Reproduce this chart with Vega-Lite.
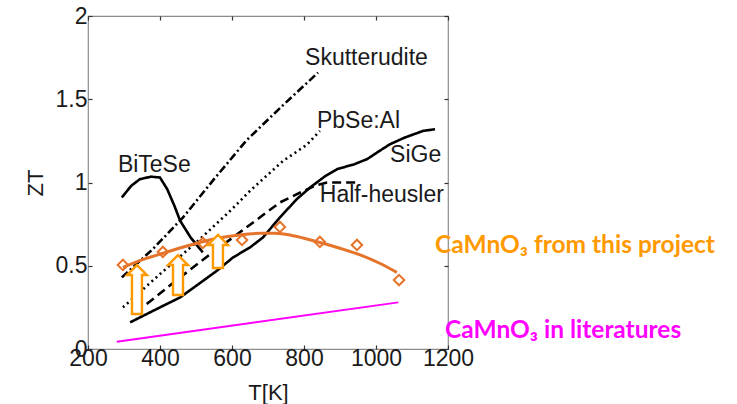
{
  "$schema": "https://vega.github.io/schema/vega-lite/v6.json",
  "width": 360,
  "height": 333,
  "autosize": "none",
  "padding": {"left": 88, "top": 16, "right": 289, "bottom": 55},
  "background": "white",
  "config": {
    "view": {"stroke": "#8c8c8c", "strokeWidth": 1.2},
    "font": "Liberation Sans",
    "axis": {
      "grid": false,
      "domain": false,
      "tickColor": "#333333",
      "tickSize": -4,
      "tickWidth": 1.2,
      "labelOverlap": false,
      "labelFlush": false,
      "labelFont": "Liberation Sans",
      "labelFontSize": 22,
      "labelColor": "#1a1a1a",
      "titleFont": "Liberation Sans",
      "titleFontSize": 22,
      "titleFontWeight": "normal",
      "titleColor": "#1a1a1a"
    }
  },
  "datasets": {
    "curves": [
      {"series": "Skutterudite", "T": 294, "ZT": 0.43},
      {"series": "Skutterudite", "T": 380, "ZT": 0.60},
      {"series": "Skutterudite", "T": 464, "ZT": 0.79},
      {"series": "Skutterudite", "T": 550, "ZT": 1.02},
      {"series": "Skutterudite", "T": 641, "ZT": 1.255},
      {"series": "Skutterudite", "T": 742, "ZT": 1.465},
      {"series": "Skutterudite", "T": 839, "ZT": 1.66},
      {"series": "PbSe:Al", "T": 297, "ZT": 0.25},
      {"series": "PbSe:Al", "T": 400, "ZT": 0.45},
      {"series": "PbSe:Al", "T": 511, "ZT": 0.66},
      {"series": "PbSe:Al", "T": 600, "ZT": 0.84},
      {"series": "PbSe:Al", "T": 650, "ZT": 0.95},
      {"series": "PbSe:Al", "T": 742, "ZT": 1.13},
      {"series": "PbSe:Al", "T": 807, "ZT": 1.225},
      {"series": "PbSe:Al", "T": 844, "ZT": 1.31},
      {"series": "Half-heusler", "T": 363, "ZT": 0.27},
      {"series": "Half-heusler", "T": 450, "ZT": 0.42},
      {"series": "Half-heusler", "T": 540, "ZT": 0.57},
      {"series": "Half-heusler", "T": 640, "ZT": 0.73},
      {"series": "Half-heusler", "T": 733, "ZT": 0.88},
      {"series": "Half-heusler", "T": 790, "ZT": 0.94},
      {"series": "Half-heusler", "T": 830, "ZT": 0.98},
      {"series": "Half-heusler", "T": 864, "ZT": 1.0},
      {"series": "Half-heusler", "T": 950, "ZT": 1.0},
      {"series": "SiGe", "T": 317, "ZT": 0.16},
      {"series": "SiGe", "T": 400, "ZT": 0.25},
      {"series": "SiGe", "T": 456, "ZT": 0.31},
      {"series": "SiGe", "T": 520, "ZT": 0.41},
      {"series": "SiGe", "T": 558, "ZT": 0.47},
      {"series": "SiGe", "T": 603, "ZT": 0.55},
      {"series": "SiGe", "T": 650, "ZT": 0.61},
      {"series": "SiGe", "T": 686, "ZT": 0.67},
      {"series": "SiGe", "T": 733, "ZT": 0.79},
      {"series": "SiGe", "T": 780, "ZT": 0.90},
      {"series": "SiGe", "T": 817, "ZT": 0.97},
      {"series": "SiGe", "T": 860, "ZT": 1.04},
      {"series": "SiGe", "T": 892, "ZT": 1.08},
      {"series": "SiGe", "T": 940, "ZT": 1.11},
      {"series": "SiGe", "T": 975, "ZT": 1.14},
      {"series": "SiGe", "T": 1010, "ZT": 1.19},
      {"series": "SiGe", "T": 1039, "ZT": 1.23},
      {"series": "SiGe", "T": 1080, "ZT": 1.27},
      {"series": "SiGe", "T": 1131, "ZT": 1.31},
      {"series": "SiGe", "T": 1164, "ZT": 1.32},
      {"series": "BiTeSe", "T": 294, "ZT": 0.91},
      {"series": "BiTeSe", "T": 320, "ZT": 0.98},
      {"series": "BiTeSe", "T": 344, "ZT": 1.02},
      {"series": "BiTeSe", "T": 375, "ZT": 1.035},
      {"series": "BiTeSe", "T": 400, "ZT": 1.03},
      {"series": "BiTeSe", "T": 420, "ZT": 0.96},
      {"series": "BiTeSe", "T": 440, "ZT": 0.86},
      {"series": "BiTeSe", "T": 456, "ZT": 0.77},
      {"series": "BiTeSe", "T": 485, "ZT": 0.67},
      {"series": "BiTeSe", "T": 519, "ZT": 0.58}
    ],
    "fit": [
      {"T": 297, "ZT": 0.49},
      {"T": 350, "ZT": 0.535},
      {"T": 408, "ZT": 0.575},
      {"T": 460, "ZT": 0.61},
      {"T": 511, "ZT": 0.64},
      {"T": 560, "ZT": 0.665},
      {"T": 620, "ZT": 0.685},
      {"T": 680, "ZT": 0.695},
      {"T": 720, "ZT": 0.695},
      {"T": 761, "ZT": 0.685},
      {"T": 800, "ZT": 0.665},
      {"T": 844, "ZT": 0.64},
      {"T": 900, "ZT": 0.605},
      {"T": 956, "ZT": 0.565},
      {"T": 1010, "ZT": 0.515},
      {"T": 1058, "ZT": 0.46}
    ],
    "measured": [
      {"T": 297, "ZT": 0.505},
      {"T": 408, "ZT": 0.583},
      {"T": 519, "ZT": 0.637},
      {"T": 628, "ZT": 0.655},
      {"T": 733, "ZT": 0.733},
      {"T": 844, "ZT": 0.643},
      {"T": 947, "ZT": 0.625},
      {"T": 1064, "ZT": 0.414}
    ],
    "literature": [
      {"T": 280, "ZT": 0.044},
      {"T": 1062, "ZT": 0.28}
    ],
    "arrows": [
      {"arrow": "a1", "T": 336, "ZT": 0.357},
      {"arrow": "a2", "T": 450, "ZT": 0.444},
      {"arrow": "a3", "T": 561, "ZT": 0.586}
    ],
    "curveLabels": [
      {"label": "Skutterudite", "T": 803, "ZT": 1.706},
      {"label": "PbSe:Al", "T": 836, "ZT": 1.327},
      {"label": "SiGe", "T": 1039, "ZT": 1.123},
      {"label": "Half-heusler", "T": 844, "ZT": 0.885},
      {"label": "BiTeSe", "T": 283, "ZT": 1.063}
    ],
    "notes": [
      {"label": "CaMnO₃ from this project", "T": 1164, "ZT": 0.577, "kind": "project"},
      {"label": "CaMnO₃ in literatures", "T": 1192, "ZT": 0.066, "kind": "literature"}
    ]
  },
  "layer": [
    {
      "data": {"name": "curves"},
      "mark": {"type": "line", "color": "black", "strokeWidth": 2.6},
      "encoding": {
        "x": {
          "field": "T", "type": "quantitative",
          "scale": {"domain": [200, 1200], "nice": false, "zero": false},
          "axis": {"values": [200, 400, 600, 800, 1000, 1200], "format": "d", "title": "T[K]", "labelFontSize": 23, "labelPadding": 2, "titlePadding": 12}
        },
        "y": {
          "field": "ZT", "type": "quantitative",
          "scale": {"domain": [0, 2], "nice": false},
          "axis": {"values": [0, 0.5, 1, 1.5, 2], "format": "~g", "title": "ZT", "labelFontSize": 23, "labelPadding": 5, "titlePadding": 8}
        },
        "detail": {"field": "series", "type": "nominal"},
        "strokeDash": {
          "field": "series", "type": "nominal",
          "scale": {
            "domain": ["Skutterudite", "PbSe:Al", "Half-heusler", "SiGe", "BiTeSe"],
            "range": [[8, 3, 2, 3], [2, 3.5], [9, 5], [1, 0], [1, 0]]
          },
          "legend": null
        },
        "order": {"field": "T", "type": "quantitative"}
      }
    },
    {
      "data": {"name": "literature"},
      "mark": {"type": "line", "color": "#ff00ff", "strokeWidth": 2},
      "encoding": {
        "x": {"field": "T", "type": "quantitative", "axis": {"orient": "top", "values": [200, 400, 600, 800, 1000, 1200], "labels": false, "title": null}},
        "y": {"field": "ZT", "type": "quantitative", "axis": {"orient": "right", "values": [0, 0.5, 1, 1.5, 2], "labels": false, "title": null}}
      }
    },
    {
      "data": {"name": "fit"},
      "mark": {"type": "line", "color": "#e5732a", "strokeWidth": 3, "interpolate": "monotone"},
      "encoding": {
        "x": {"field": "T", "type": "quantitative", "axis": null},
        "y": {"field": "ZT", "type": "quantitative", "axis": null}
      }
    },
    {
      "data": {"name": "measured"},
      "mark": {"type": "point", "shape": "diamond", "filled": false, "color": "#e5732a", "strokeWidth": 2, "size": 110, "opacity": 1},
      "encoding": {
        "x": {"field": "T", "type": "quantitative", "axis": null},
        "y": {"field": "ZT", "type": "quantitative", "axis": null}
      }
    },
    {
      "data": {"name": "curveLabels"},
      "mark": {"type": "text", "align": "left", "baseline": "alphabetic", "font": "Liberation Sans", "fontSize": 23, "color": "#1a1a1a"},
      "encoding": {
        "x": {"field": "T", "type": "quantitative", "axis": null},
        "y": {"field": "ZT", "type": "quantitative", "axis": null},
        "text": {"field": "label"}
      }
    },
    {
      "data": {"name": "notes"},
      "mark": {"type": "text", "align": "left", "baseline": "alphabetic", "font": "Lato", "fontWeight": "bold", "fontSize": 24.5},
      "encoding": {
        "x": {"field": "T", "type": "quantitative", "axis": null},
        "y": {"field": "ZT", "type": "quantitative", "axis": null},
        "text": {"field": "label"},
        "color": {
          "field": "kind", "type": "nominal",
          "scale": {"domain": ["project", "literature"], "range": ["#ff9900", "#ff00ff"]},
          "legend": null
        }
      }
    },
    {
      "data": {"name": "arrows"},
      "mark": {"type": "point", "filled": true, "fill": "white", "fillOpacity": 1, "stroke": "#ff9900", "strokeWidth": 2.4, "strokeOpacity": 1, "size": 2500, "opacity": 1},
      "encoding": {
        "x": {"field": "T", "type": "quantitative", "axis": null},
        "y": {"field": "ZT", "type": "quantitative", "axis": null},
        "shape": {
          "field": "arrow", "type": "nominal",
          "scale": {
            "domain": ["a1", "a2", "a3"],
            "range": [
              "M0,-0.98L0.4,-0.58L0.2,-0.58L0.2,0.98L-0.2,0.98L-0.2,-0.58L-0.4,-0.58Z",
              "M0,-0.8L0.4,-0.4L0.2,-0.4L0.2,0.8L-0.2,0.8L-0.2,-0.4L-0.4,-0.4Z",
              "M0,-0.66L0.4,-0.26L0.2,-0.26L0.2,0.66L-0.2,0.66L-0.2,-0.26L-0.4,-0.26Z"
            ]
          },
          "legend": null
        }
      }
    }
  ],
  "resolve": {"axis": {"x": "independent", "y": "independent"}}
}
